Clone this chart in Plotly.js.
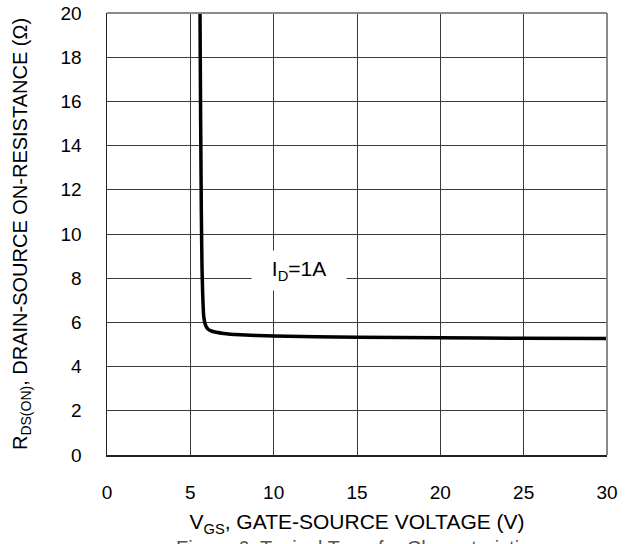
<!DOCTYPE html>
<html>
<head>
<meta charset="utf-8">
<script src="https://cdn.plot.ly/plotly-3.0.1.min.js"></script>
<style>html,body{margin:0;padding:0;background:#fff;}#chart{width:640px;height:544px;}</style>
</head>
<body>
<div id="chart"></div>
<script>
// V_GS (V)
const vgs = [5.58, 5.62, 5.66, 5.70, 5.74, 5.80, 5.90, 6.05, 6.3, 7.0, 8.0, 10, 15, 20, 25, 30];
// R_DS(ON) (Ohm)
const rdson = [20, 15, 11, 8.5, 7.3, 6.3, 5.9, 5.7, 5.6, 5.5, 5.44, 5.38, 5.33, 5.3, 5.28, 5.27];
const xTicks = [0, 5, 10, 15, 20, 25, 30];
const yTicks = [0, 2, 4, 6, 8, 10, 12, 14, 16, 18, 20];
const curveLabel = "I<sub>D</sub>=1A";
const labelPos = {x: 11.5, y: 8.33};

const FONT = "Liberation Sans, Arial, sans-serif";

const trace = {
  x: vgs, y: rdson, type: "scatter", mode: "lines",
  line: {color: "#000", width: 3.5, shape: "spline", smoothing: 0.5},
  hoverinfo: "skip", showlegend: false
};

const layout = {
  width: 640, height: 544,
  margin: {l: 107, r: 33, t: 13, b: 89},
  paper_bgcolor: "#fff", plot_bgcolor: "#fff",
  font: {family: FONT, size: 19, color: "#000"},
  xaxis: {
    range: [0, 30], tickvals: xTicks, ticktext: xTicks.map(String),
    showgrid: true, gridcolor: "#3a3a3a", gridwidth: 1,
    zeroline: false, showline: true, linecolor: "#222", linewidth: 1.5,
    ticks: "", ticklabelstandoff: 20,
    tickfont: {family: FONT, size: 19, color: "#000"},
    title: {text: "V<sub>GS</sub>, GATE-SOURCE VOLTAGE (V)", font: {family: FONT, size: 21, color: "#000"}, standoff: 12}
  },
  yaxis: {
    range: [0, 20], tickvals: yTicks, ticktext: yTicks.map(String),
    showgrid: true, gridcolor: "#3a3a3a", gridwidth: 1,
    zeroline: false, showline: true, linecolor: "#222", linewidth: 1.5,
    ticks: "", ticklabelstandoff: 20,
    tickfont: {family: FONT, size: 19, color: "#000"},
    title: {text: "R<sub>DS(ON)</sub>, DRAIN-SOURCE ON-RESISTANCE (Ω)", font: {family: FONT, size: 20, color: "#000"}, standoff: 27}
  },
  shapes: [
    {type: "line", xref: "paper", yref: "paper", x0: 0, x1: 1, y0: 1, y1: 1, line: {color: "#8a8a8a", width: 2}},
    {type: "line", xref: "paper", yref: "paper", x0: 1, x1: 1, y0: 0, y1: 1, line: {color: "#8a8a8a", width: 2}}
  ],
  annotations: [
    {x: labelPos.x, y: labelPos.y, xref: "x", yref: "y", text: curveLabel, showarrow: false,
     bgcolor: "#fff", width: 92, height: 37, font: {family: FONT, size: 21, color: "#000"}},
    {x: 0.5, y: -0.181, xref: "paper", yref: "paper", yanchor: "top", xanchor: "center",
     text: "Figure 6. Typical Transfer Characteristics", showarrow: false,
     font: {family: FONT, size: 20, color: "#555"}}
  ]
};

Plotly.newPlot("chart", [trace], layout, {displayModeBar: false, staticPlot: true});
</script>
</body>
</html>
